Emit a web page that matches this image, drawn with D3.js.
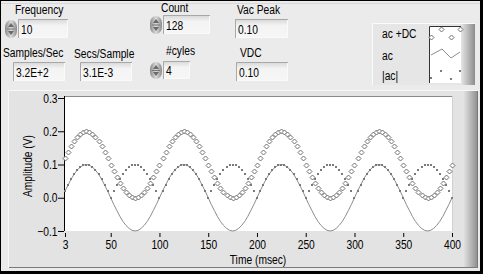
<!DOCTYPE html>
<html>
<head>
<meta charset="utf-8">
<script src="https://cdn.jsdelivr.net/npm/d3@7"></script>
<style>
  html, body { margin: 0; padding: 0; background: #000; }
  svg { display: block; }
  text { font-family: "Liberation Sans", Arial, sans-serif; font-size: 12.5px; fill: #000; }
</style>
</head>
<body>
<svg id="chart"></svg>
<script>
'use strict';

// front panel values
var controlLabels = ['Frequency', 'Count', 'Vac Peak', 'Samples/Sec', 'Secs/Sample', '#cyles', 'VDC'];
var controlValues = ['10', '128', '0.10', '3.2E+2', '3.1E-3', '4', '0.10'];

// series, one sample every 3.125 msec (128 samples)
var sampleStep = 3.125;
var acValues = [
  0.020,0.038,0.056,0.071,0.083,0.092,0.098,0.100,0.098,0.092,0.083,0.071,0.056,0.038,0.020,0.000,
  -0.020,-0.038,-0.056,-0.071,-0.083,-0.092,-0.098,-0.100,-0.098,-0.092,-0.083,-0.071,-0.056,-0.038,-0.020,0.000,
  0.020,0.038,0.056,0.071,0.083,0.092,0.098,0.100,0.098,0.092,0.083,0.071,0.056,0.038,0.020,0.000,
  -0.020,-0.038,-0.056,-0.071,-0.083,-0.092,-0.098,-0.100,-0.098,-0.092,-0.083,-0.071,-0.056,-0.038,-0.020,0.000,
  0.020,0.038,0.056,0.071,0.083,0.092,0.098,0.100,0.098,0.092,0.083,0.071,0.056,0.038,0.020,0.000,
  -0.020,-0.038,-0.056,-0.071,-0.083,-0.092,-0.098,-0.100,-0.098,-0.092,-0.083,-0.071,-0.056,-0.038,-0.020,0.000,
  0.020,0.038,0.056,0.071,0.083,0.092,0.098,0.100,0.098,0.092,0.083,0.071,0.056,0.038,0.020,0.000,
  -0.020,-0.038,-0.056,-0.071,-0.083,-0.092,-0.098,-0.100,-0.098,-0.092,-0.083,-0.071,-0.056,-0.038,-0.020,0.000
];
var acDcValues = [
  0.120,0.138,0.156,0.171,0.183,0.192,0.198,0.200,0.198,0.192,0.183,0.171,0.156,0.138,0.120,0.100,
  0.080,0.062,0.044,0.029,0.017,0.008,0.002,0.000,0.002,0.008,0.017,0.029,0.044,0.062,0.080,0.100,
  0.120,0.138,0.156,0.171,0.183,0.192,0.198,0.200,0.198,0.192,0.183,0.171,0.156,0.138,0.120,0.100,
  0.080,0.062,0.044,0.029,0.017,0.008,0.002,0.000,0.002,0.008,0.017,0.029,0.044,0.062,0.080,0.100,
  0.120,0.138,0.156,0.171,0.183,0.192,0.198,0.200,0.198,0.192,0.183,0.171,0.156,0.138,0.120,0.100,
  0.080,0.062,0.044,0.029,0.017,0.008,0.002,0.000,0.002,0.008,0.017,0.029,0.044,0.062,0.080,0.100,
  0.120,0.138,0.156,0.171,0.183,0.192,0.198,0.200,0.198,0.192,0.183,0.171,0.156,0.138,0.120,0.100,
  0.080,0.062,0.044,0.029,0.017,0.008,0.002,0.000,0.002,0.008,0.017,0.029,0.044,0.062,0.080,0.100
];
var absValues = [
  0.020,0.038,0.056,0.071,0.083,0.092,0.098,0.100,0.098,0.092,0.083,0.071,0.056,0.038,0.020,0.000,
  0.020,0.038,0.056,0.071,0.083,0.092,0.098,0.100,0.098,0.092,0.083,0.071,0.056,0.038,0.020,0.000,
  0.020,0.038,0.056,0.071,0.083,0.092,0.098,0.100,0.098,0.092,0.083,0.071,0.056,0.038,0.020,0.000,
  0.020,0.038,0.056,0.071,0.083,0.092,0.098,0.100,0.098,0.092,0.083,0.071,0.056,0.038,0.020,0.000,
  0.020,0.038,0.056,0.071,0.083,0.092,0.098,0.100,0.098,0.092,0.083,0.071,0.056,0.038,0.020,0.000,
  0.020,0.038,0.056,0.071,0.083,0.092,0.098,0.100,0.098,0.092,0.083,0.071,0.056,0.038,0.020,0.000,
  0.020,0.038,0.056,0.071,0.083,0.092,0.098,0.100,0.098,0.092,0.083,0.071,0.056,0.038,0.020,0.000,
  0.020,0.038,0.056,0.071,0.083,0.092,0.098,0.100,0.098,0.092,0.083,0.071,0.056,0.038,0.020,0.000
];

var xTickValues = [3.125, 50, 100, 150, 200, 250, 300, 350, 400];
var xTickLabels = ['3', '50', '100', '150', '200', '250', '300', '350', '400'];
var yTickValues = [-0.1, 0.0, 0.1, 0.2, 0.3];
var legendNames = ['ac +DC', 'ac', '|ac|'];

// the panel font is narrow, squeeze the glyphs horizontally
var squeeze = 'scale(0.82,1)';

function txt(parent, x, y, s) {
    return parent.append('text').attr('transform', 'translate(' + x + ',' + y + ') ' + squeeze).text(s);
}

function render() {
    var w = 483;
    var h = 274;
    var svg = d3.select('#chart').attr('width', w).attr('height', h);
    var defs = svg.append('defs');

    var g1 = defs.append('linearGradient').attr('id', 'rightShade');
    g1.append('stop').attr('offset', '0%').attr('stop-color', '#e6e6e6');
    g1.append('stop').attr('offset', '100%').attr('stop-color', '#8c8c8c');

    var g2 = defs.append('linearGradient').attr('id', 'spin');
    g2.append('stop').attr('offset', '0%').attr('stop-color', '#8a8a8a');
    g2.append('stop').attr('offset', '50%').attr('stop-color', '#dcdcdc');
    g2.append('stop').attr('offset', '100%').attr('stop-color', '#8a8a8a');

    var g3 = defs.append('linearGradient').attr('id', 'boxShade').attr('x1', 0).attr('y1', 0).attr('x2', 0).attr('y2', 1);
    g3.append('stop').attr('offset', '0%').attr('stop-color', '#d6d6d6');
    g3.append('stop').attr('offset', '35%').attr('stop-color', '#f4f4f4');
    g3.append('stop').attr('offset', '100%').attr('stop-color', '#f6f6f6');

    // window + panel
    svg.append('rect').attr('width', w).attr('height', h).attr('fill', '#000');
    svg.append('rect').attr('x', 1).attr('y', 1).attr('width', w - 4).attr('height', h - 4).attr('fill', '#ebebeb');
    svg.append('line').attr('x1', 1).attr('x2', w - 3).attr('y1', 3.5).attr('y2', 3.5).attr('stroke', '#d8d8d8');

    // controls
    var labelPos = [[15, 14], [161, 12], [237, 14], [3, 57], [74, 58], [166, 55], [240, 57]];
    var boxes = [
        { x: 18, y: 19, w: 50, h: 19, spin: true },
        { x: 163, y: 15, w: 47, h: 19, spin: true },
        { x: 235, y: 19, w: 53, h: 19 },
        { x: 13, y: 62, w: 52, h: 19 },
        { x: 80, y: 62, w: 52, h: 19 },
        { x: 163, y: 61, w: 27, h: 18, spin: true },
        { x: 236, y: 62, w: 52, h: 19 }
    ];

    controlLabels.forEach(function (lab, i) {
        txt(svg, labelPos[i][0], labelPos[i][1], lab);
        var b = boxes[i];
        svg.append('rect').attr('x', b.x).attr('y', b.y).attr('width', b.w).attr('height', b.h).attr('fill', 'url(#boxShade)');
        svg.append('path').attr('d', 'M' + (b.x + 0.5) + ',' + (b.y + b.h) + 'V' + (b.y + 0.5) + 'H' + (b.x + b.w))
            .attr('fill', 'none').attr('stroke', '#a8a8a8');
        svg.append('path').attr('d', 'M' + (b.x + 1) + ',' + (b.y + b.h - 0.5) + 'H' + (b.x + b.w - 0.5) + 'V' + (b.y + 1))
            .attr('fill', 'none').attr('stroke', '#fafafa');
        txt(svg, b.x + 3, b.y + b.h - 4.5, controlValues[i]);
        if (b.spin) {
            var sx = b.x - 13;
            var sy = b.y + 1;
            var sh = b.h - 1;
            svg.append('rect').attr('x', sx).attr('y', sy).attr('width', 12).attr('height', sh)
                .attr('rx', 6).attr('ry', 7).attr('fill', 'url(#spin)');
            svg.append('line').attr('x1', sx + 2).attr('x2', sx + 10).attr('y1', sy + sh / 2).attr('y2', sy + sh / 2)
                .attr('stroke', '#777');
            svg.append('path').attr('d', 'M' + (sx + 6) + ',' + (sy + 3) + 'l3,4h-6z').attr('fill', '#6a6a6a');
            svg.append('path').attr('d', 'M' + (sx + 6) + ',' + (sy + sh - 3) + 'l3,-4h-6z').attr('fill', '#6a6a6a');
        }
    });

    // legend
    var lg = svg.append('g');
    lg.append('rect').attr('x', 372).attr('y', 23).attr('width', 103).attr('height', 62).attr('fill', '#e6e6e6');
    lg.append('rect').attr('x', 461).attr('y', 23).attr('width', 14).attr('height', 62).attr('fill', 'url(#rightShade)');
    lg.append('path').attr('d', 'M372.5,85V23.5H475').attr('fill', 'none').attr('stroke', '#fbfbfb');
    lg.append('rect').attr('x', 429).attr('y', 26).attr('width', 32).attr('height', 57).attr('fill', '#fff');
    lg.append('path').attr('d', 'M429.5,83V26.5H461').attr('fill', 'none').attr('stroke', '#333');
    legendNames.forEach(function (n, i) {
        txt(lg, 382, [38, 60, 80][i], n);
    });

    // graph frame
    svg.append('rect').attr('x', 8).attr('y', 90).attr('width', 470).attr('height', 178).attr('fill', '#e3e3e3');
    svg.append('rect').attr('x', 463).attr('y', 90).attr('width', 15).attr('height', 178).attr('fill', 'url(#rightShade)');
    svg.append('path').attr('d', 'M8.5,268V90.5H478').attr('fill', 'none').attr('stroke', '#f8f8f8');
    svg.append('path').attr('d', 'M9,267.5H477.5V91').attr('fill', 'none').attr('stroke', '#7a7a7a');

    var x = d3.scaleLinear().domain([3.125, 400]).range([65, 452]);
    var y = d3.scaleLinear().domain([-0.1, 0.3]).range([231, 98]);

    svg.append('rect').attr('x', 65).attr('y', 96).attr('width', 387).attr('height', 135).attr('fill', '#fff');
    svg.append('line').attr('x1', 65).attr('x2', 452).attr('y1', 96.5).attr('y2', 96.5).attr('stroke', '#8a8a8a');
    svg.append('line').attr('x1', 452.5).attr('x2', 452.5).attr('y1', 96).attr('y2', 231).attr('stroke', '#d0d0d0');
    svg.append('line').attr('x1', 64.5).attr('x2', 64.5).attr('y1', 96).attr('y2', 231).attr('stroke', '#000');

    var xAxis = d3.axisBottom(x).tickValues(xTickValues).tickSizeInner(4).tickSizeOuter(0).tickPadding(3)
        .tickFormat(function (d, i) { return xTickLabels[i]; });
    var gx = svg.append('g').attr('transform', 'translate(0,233)').call(xAxis);
    gx.select('.domain').remove();

    var yAxis = d3.axisLeft(y).tickValues(yTickValues).tickSizeInner(6).tickSizeOuter(0).tickPadding(2)
        .tickFormat(d3.format('.1f'));
    var gy = svg.append('g').attr('transform', 'translate(64,0)').call(yAxis);
    gy.select('.domain').remove();

    svg.selectAll('.tick text').attr('font-size', null).attr('font-family', null).attr('transform', squeeze);
    svg.selectAll('.tick line').attr('stroke', '#000');

    txt(svg, 258, 264, 'Time (msec)').attr('text-anchor', 'middle');
    svg.append('text').attr('transform', 'translate(32,166) rotate(-90) ' + squeeze)
        .attr('text-anchor', 'middle').text('Amplitude (V)');

    var plot = svg.append('g');
    var tx = function (d, i) { return x((i + 1) * sampleStep); };

    plot.append('path').datum(acValues)
        .attr('d', d3.line().x(tx).y(function (d) { return y(d); }))
        .attr('fill', 'none').attr('stroke', '#8c8c8c').attr('stroke-width', 1);

    plot.selectAll('.dot').data(absValues).enter().append('rect').attr('class', 'dot')
        .attr('x', function (d, i) { return Math.round(tx(d, i)) - 1; })
        .attr('y', function (d) { return Math.round(y(d)) - 1; })
        .attr('width', 2).attr('height', 2).attr('fill', '#7a7a7a');

    plot.selectAll('.dia').data(acDcValues).enter().append('path').attr('class', 'dia')
        .attr('d', function (d, i) {
            var cx = Math.round(tx(d, i)) + 0.5;
            var cy = Math.round(y(d)) + 0.5;
            return 'M' + cx + ',' + (cy - 2.5) + 'L' + (cx + 2.5) + ',' + cy + 'L' + cx + ',' + (cy + 2.5) + 'L' + (cx - 2.5) + ',' + cy + 'Z';
        })
        .attr('fill', '#fff').attr('stroke', '#6e6e6e').attr('stroke-width', 1);

    // legend swatches
    var diaPts = [[441, 29], [431, 37], [451, 37], [460, 29]];
    diaPts.forEach(function (p) {
        lg.append('path').attr('d', 'M' + (p[0] + 0.5) + ',' + (p[1] - 2) + 'l2.5,2.5l-2.5,2.5l-2.5,-2.5z')
            .attr('fill', '#fff').attr('stroke', '#6e6e6e');
    });
    lg.append('path').attr('d', 'M431,55L442,49L451,58L460,52').attr('fill', 'none').attr('stroke', '#8c8c8c');
    [[431, 78], [441, 71], [451, 79], [460, 71]].forEach(function (p) {
        lg.append('rect').attr('x', p[0] - 1).attr('y', p[1] - 1).attr('width', 2).attr('height', 2).attr('fill', '#7a7a7a');
    });
}

render();
</script>
</body>
</html>
